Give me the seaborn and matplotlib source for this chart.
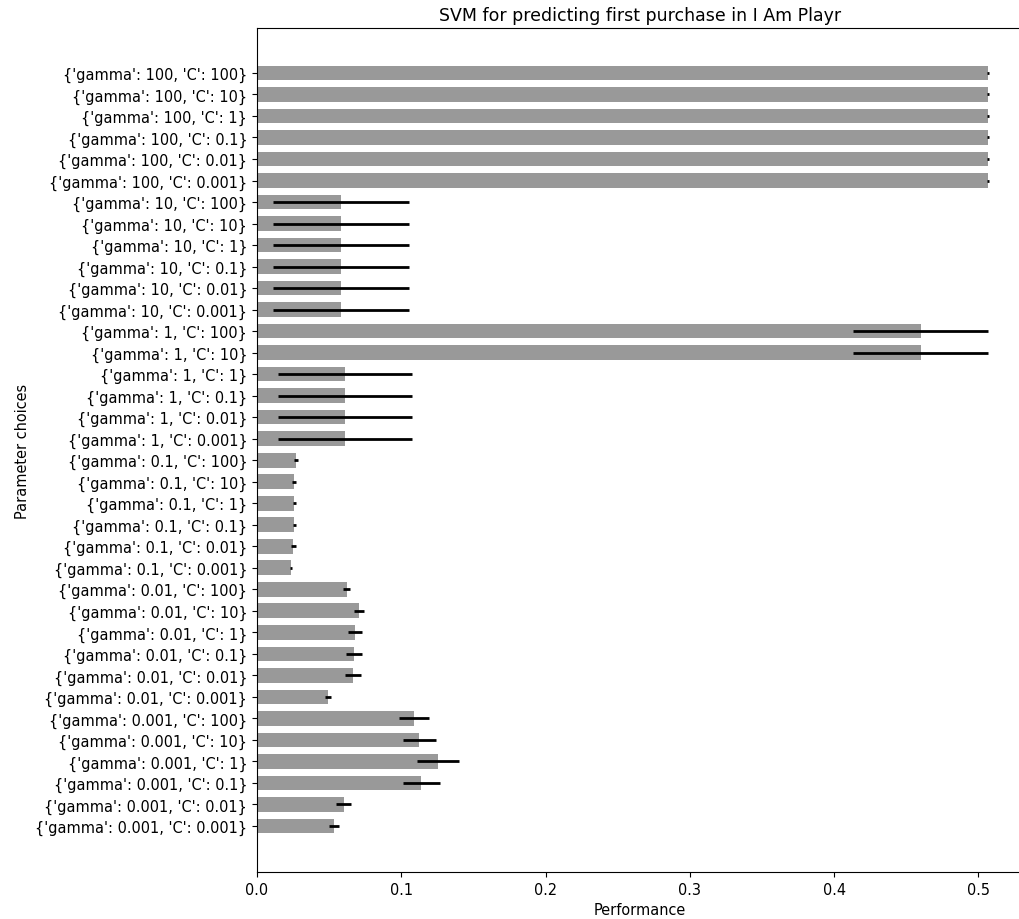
import matplotlib
matplotlib.use("Agg")
import matplotlib.pyplot as plt
import seaborn as sns
import pandas as pd

labels = [
    "{'gamma': 100, 'C': 100}", "{'gamma': 100, 'C': 10}", "{'gamma': 100, 'C': 1}",
    "{'gamma': 100, 'C': 0.1}", "{'gamma': 100, 'C': 0.01}", "{'gamma': 100, 'C': 0.001}",
    "{'gamma': 10, 'C': 100}", "{'gamma': 10, 'C': 10}", "{'gamma': 10, 'C': 1}",
    "{'gamma': 10, 'C': 0.1}", "{'gamma': 10, 'C': 0.01}", "{'gamma': 10, 'C': 0.001}",
    "{'gamma': 1, 'C': 100}", "{'gamma': 1, 'C': 10}", "{'gamma': 1, 'C': 1}",
    "{'gamma': 1, 'C': 0.1}", "{'gamma': 1, 'C': 0.01}", "{'gamma': 1, 'C': 0.001}",
    "{'gamma': 0.1, 'C': 100}", "{'gamma': 0.1, 'C': 10}", "{'gamma': 0.1, 'C': 1}",
    "{'gamma': 0.1, 'C': 0.1}", "{'gamma': 0.1, 'C': 0.01}", "{'gamma': 0.1, 'C': 0.001}",
    "{'gamma': 0.01, 'C': 100}", "{'gamma': 0.01, 'C': 10}", "{'gamma': 0.01, 'C': 1}",
    "{'gamma': 0.01, 'C': 0.1}", "{'gamma': 0.01, 'C': 0.01}", "{'gamma': 0.01, 'C': 0.001}",
    "{'gamma': 0.001, 'C': 100}", "{'gamma': 0.001, 'C': 10}", "{'gamma': 0.001, 'C': 1}",
    "{'gamma': 0.001, 'C': 0.1}", "{'gamma': 0.001, 'C': 0.01}", "{'gamma': 0.001, 'C': 0.001}",
]

performance = [
    0.507, 0.507, 0.507, 0.507, 0.507, 0.507,
    0.058, 0.058, 0.058, 0.058, 0.058, 0.058,
    0.460, 0.460, 0.061, 0.061, 0.061, 0.061,
    0.0272, 0.0258, 0.0258, 0.0258, 0.0251, 0.0238,
    0.0623, 0.0709, 0.0680, 0.0670, 0.0665, 0.0492,
    0.1087, 0.1124, 0.1253, 0.1138, 0.0600, 0.0533,
]

errors = [
    0.0007, 0.0007, 0.0007, 0.0007, 0.0007, 0.0007,
    0.047, 0.047, 0.047, 0.047, 0.047, 0.047,
    0.047, 0.047, 0.0465, 0.0465, 0.0465, 0.0465,
    0.0014, 0.0015, 0.0010, 0.0010, 0.0016, 0.0007,
    0.0024, 0.0035, 0.0050, 0.0055, 0.0058, 0.0022,
    0.0104, 0.0115, 0.0144, 0.0127, 0.0053, 0.0037,
]

df = pd.DataFrame({"params": labels, "perf": performance, "err": errors})

fs = 10.45
fig = plt.figure(figsize=(10.2, 9.2), dpi=100)
ax = fig.add_axes([0.252, 0.0511, 0.751, 0.9174])

sns.barplot(data=df, x="perf", y="params", orient="h", order=labels,
            color="#999999", saturation=1, width=0.68, errorbar=None, ax=ax)
ax.errorbar(df["perf"], range(len(labels)), xerr=df["err"], fmt="none",
            ecolor="black", elinewidth=2.0, capsize=0)

ax.set_xlim(0, 0.531)
ax.set_ylim(len(labels) - 1 + 2.14, -2.09)
ax.set_xticks([0.0, 0.1, 0.2, 0.3, 0.4, 0.5])
ax.set_xticklabels(["0.0", "0.1", "0.2", "0.3", "0.4", "0.5"])
ax.tick_params(axis="both", labelsize=fs)
ax.set_xlabel("Performance", fontsize=fs)
ax.set_ylabel("Parameter choices", fontsize=fs)
ax.set_title("SVM for predicting first purchase in I Am Playr", fontsize=12.55)

fig.savefig("out.png", dpi=100)
